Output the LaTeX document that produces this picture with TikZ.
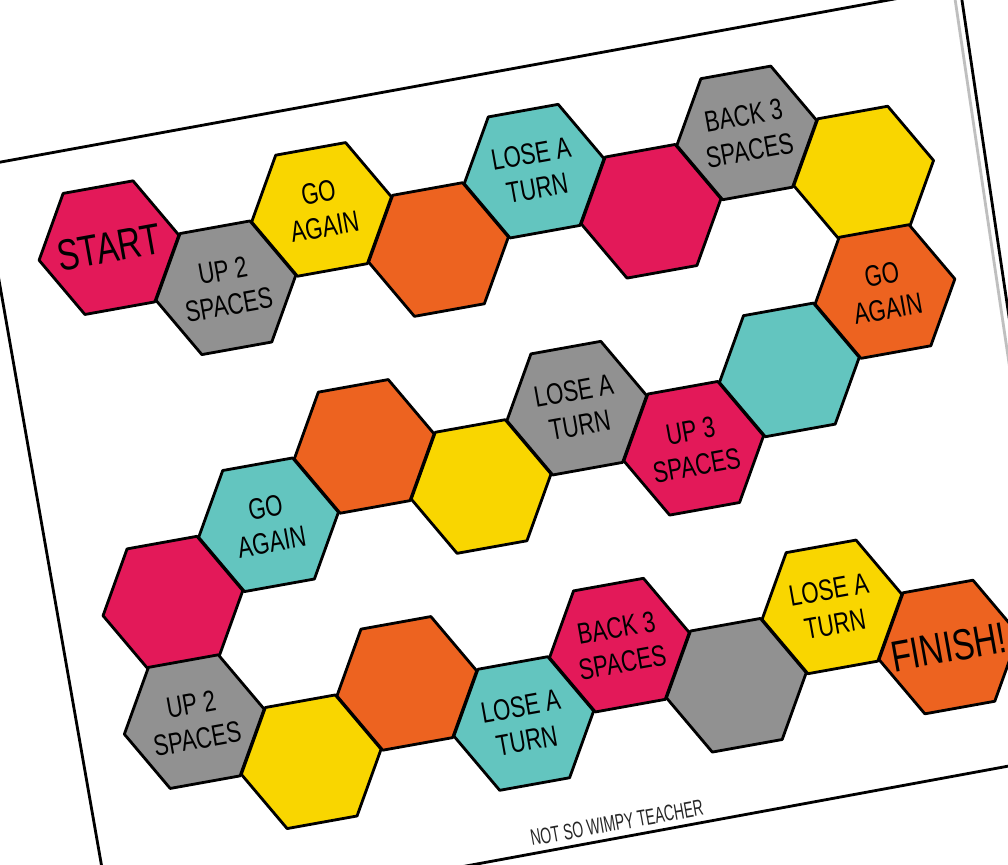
\documentclass[tikz,border=0pt]{standalone}
\usepackage{fontspec}
\newfontfamily\tilefont{Liberation Sans}[FakeStretch=0.75]
\newfontfamily\creditfont{Liberation Sans}[FakeStretch=0.62]
\usetikzlibrary{shapes.geometric}
\definecolor{tilepink}{RGB}{227,25,89}
\definecolor{tilegray}{RGB}{145,145,145}
\definecolor{tileyellow}{RGB}{249,214,0}
\definecolor{tileorange}{RGB}{237,99,32}
\definecolor{tileteal}{RGB}{99,197,191}

\begin{document}
\begin{tikzpicture}[
  x=0.025cm, y=-0.025cm,
  paper/.style={draw=black, fill=white, line width=2pt, line join=round},
  hexa/.style={regular polygon, regular polygon sides=6, minimum size=3.55cm, inner sep=0pt, draw=black, line width=2pt, line join=round},
  lbl/.style={align=center, inner sep=0pt, font=\tilefont\fontsize{21}{25}\selectfont},
  credit/.style={inner sep=0pt, text=black!85, font=\creditfont\fontsize{16}{18}\selectfont}
]
  \useasboundingbox (0,0) rectangle (1008,864);
  \clip (0,0) rectangle (1008,864);
  % the sheet
  \draw[paper] (-21,166) -- (960,-13) -- (1074,754) -- (113,931) -- cycle;
  \draw[black!25, line width=2pt] (954,-8) -- (1067,754);

  % board, in sheet coordinates
  \begin{scope}[shift={(107,248)}, rotate=10.2, transform shape]
    \foreach \n/\cx/\ry/\col/\txt in {
      1/0/0/tilepink/{\fontsize{31}{34}\selectfont START},
      2/1/1/tilegray/{UP 2\\SPACES},
      3/2/0/tileyellow/{GO\\AGAIN},
      4/3/1/tileorange/{},
      5/4/0/tileteal/{LOSE A\\TURN},
      6/5/1/tilepink/{},
      7/6/0/tilegray/{BACK 3\\SPACES},
      8/7/1/tileyellow/{},
      9/7/3/tileorange/{GO\\AGAIN},
      10/6/4/tileteal/{},
      11/5/5/tilepink/{UP 3\\SPACES},
      12/4/4/tilegray/{LOSE A\\TURN},
      13/3/5/tileyellow/{},
      14/2/4/tileorange/{},
      15/1/5/tileteal/{GO\\AGAIN},
      16/0/6/tilepink/{},
      17/0/8/tilegray/{UP 2\\SPACES},
      18/1/9/tileyellow/{},
      19/2/8/tileorange/{},
      20/3/9/tileteal/{LOSE A\\TURN},
      21/4/8/tilepink/{BACK 3\\SPACES},
      22/5/9/tilegray/{},
      23/6/8/tileyellow/{LOSE A\\TURN},
      24/7/9/tileorange/{\fontsize{31}{34}\selectfont FINISH!}%
    }{
      \node[hexa, fill=\col] (t\n) at ({108*\cx+2},{60.2*\ry}) {};
      \node[lbl] at (t\n) {\txt};
    }
    \node[credit] (credit) at (400,656) {NOT SO WIMPY TEACHER};
  \end{scope}
\end{tikzpicture}
\end{document}
